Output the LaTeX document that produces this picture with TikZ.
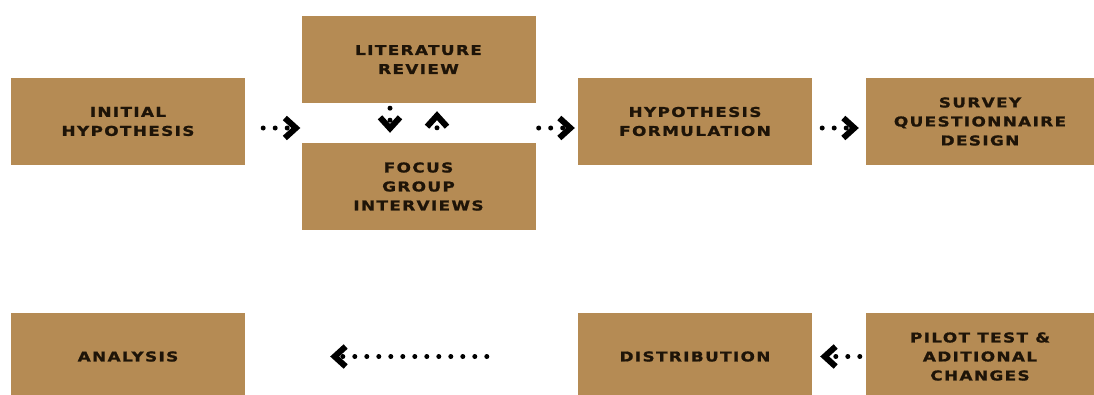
\documentclass[tikz,border=0pt]{standalone}
\usepackage{fontspec}
\usepackage{tikz}
\usetikzlibrary{arrows.meta,calc}

\newfontfamily\stepfont[FakeStretch=1.25,LetterSpace=10,BoldFeatures={FakeBold=1.2}]{DejaVu Sans}
\definecolor{boxtan}{RGB}{181,139,84}
\definecolor{ink}{RGB}{30,20,8}

\begin{document}
\begin{tikzpicture}[x=1pt, y=-1pt]
		\tikzstyle{Step}	= [rectangle, fill=boxtan, minimum width=234pt, minimum height=87pt, inner sep=0pt, align=center, text=ink, font=\stepfont\bfseries\fontsize{13.5}{19}\selectfont]
		\tikzstyle{Flow}	= [line width=5pt, line cap=round, dash pattern=on 0pt off 12pt, -{Straight Barb[length=11pt, width=20pt, line width=6pt]}]

		\useasboundingbox (0, 0) rectangle (1094, 394);
		\clip (0, 0) rectangle (1094, 394);

		\node (initial) at (128, 121.5) [Step] {INITIAL\\HYPOTHESIS};
		\node (lit) at (418.5, 59.5) [Step] {LITERATURE\\REVIEW};
		\node (focus) at (418.5, 186.5) [Step] {FOCUS\\GROUP\\INTERVIEWS};
		\node (hypo) at (695, 121.5) [Step] {HYPOTHESIS\\FORMULATION};
		\node (survey) at (980, 121.5) [Step, minimum width=228pt] {SURVEY\\QUESTIONNAIRE\\DESIGN};
		\node (analysis) at (128, 356.5) [Step] {ANALYSIS};
		\node (dist) at (695, 356.5) [Step] {DISTRIBUTION};
		\node (pilot) at (980, 356.5) [Step, minimum width=228pt] {PILOT TEST \&\\ADITIONAL\\CHANGES};

		\draw [Flow] ($(initial.east)+(0,6.5)$) to ($(initial.east -| lit.west)+(0,6.5)$) [shorten <=18pt, shorten >=1pt];
		\draw [Flow] ($(lit.south east)!0.5!(focus.north east)+(0,5)$) to ($(hypo.west)+(0,6.5)$) [shorten <=3pt, shorten >=3pt];
		\draw [Flow] ($(hypo.east)+(0,6.5)$) to ($(survey.west)+(0,6.5)$) [shorten <=10pt, shorten >=7pt];
		\draw [Flow] ($(lit.south)+(-28.5,0)$) to ($(focus.north)+(-28.5,0)$) [shorten <=5pt, shorten >=10pt];
		\draw [Flow] ($(focus.north)+(18.5,0)$) to ($(lit.south)+(18.5,0)$) [shorten <=15pt, shorten >=8pt];
		\draw [Flow] (pilot.west) to (dist.east) [shorten <=6pt, shorten >=8pt];
		\draw [Flow] (dist.west) to (analysis.east) [shorten <=91pt, shorten >=85pt];
	\end{tikzpicture}
\end{document}
